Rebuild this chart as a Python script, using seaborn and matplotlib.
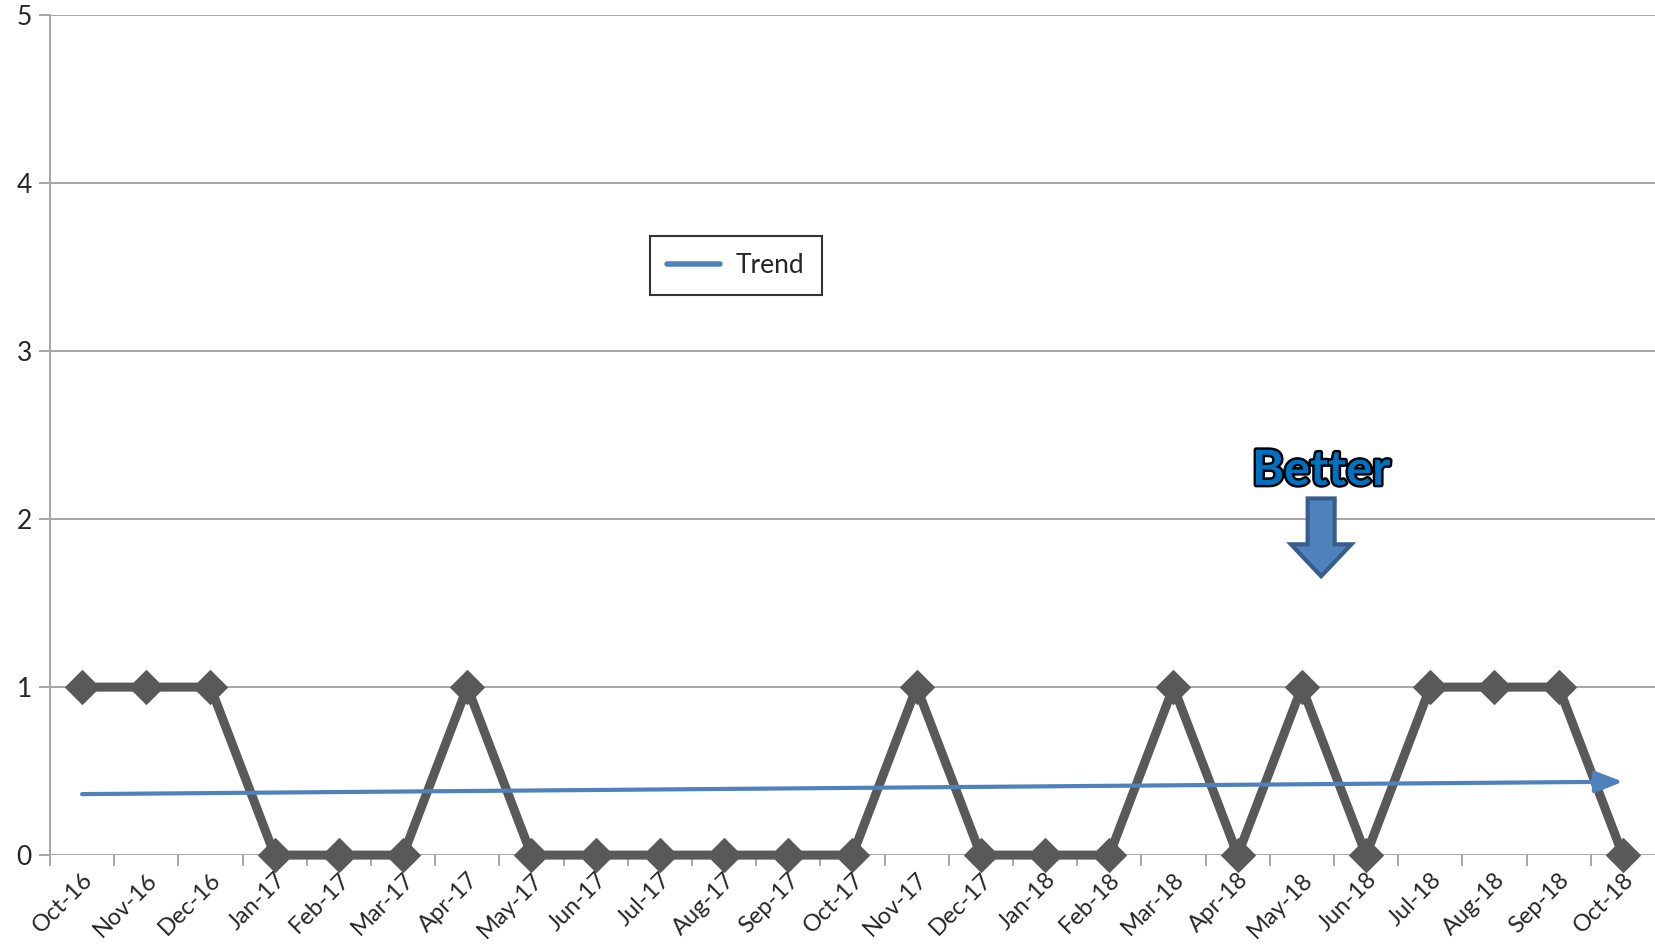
import matplotlib
matplotlib.use("Agg")
import matplotlib.pyplot as plt
import matplotlib.patheffects as pe
from matplotlib.lines import Line2D
from matplotlib.patches import Polygon
import numpy as np
import pandas as pd
import seaborn as sns

months = [
    "Oct-16", "Nov-16", "Dec-16", "Jan-17", "Feb-17", "Mar-17", "Apr-17",
    "May-17", "Jun-17", "Jul-17", "Aug-17", "Sep-17", "Oct-17", "Nov-17",
    "Dec-17", "Jan-18", "Feb-18", "Mar-18", "Apr-18", "May-18", "Jun-18",
    "Jul-18", "Aug-18", "Sep-18", "Oct-18",
]
values = [1, 1, 1, 0, 0, 0, 1, 0, 0, 0, 0, 0, 0, 1, 0, 0, 0, 1, 0, 1, 0, 1, 1, 1, 0]
trend_start = 0.363
trend_end = 0.437
y_ticks = [0, 1, 2, 3, 4, 5]

sns.set_theme(style="white")
plt.rcParams["font.family"] = ["Lato", "DejaVu Sans"]

df = pd.DataFrame({"month": months, "value": values})

fig = plt.figure(figsize=(16.55, 9.48), dpi=100)
ax = fig.add_axes([0.0302, 0.098, 0.9698, 0.886])

grid_col = "#A6A6A6"
for y in y_ticks:
    ax.axhline(y, color=grid_col, lw=1.4, zorder=0)

sns.lineplot(data=df, x="month", y="value", sort=False, ax=ax,
             color="#595959", lw=6.5, marker="D", markersize=17,
             markeredgecolor="#595959", zorder=3, clip_on=False)

# trend arrow
pos = np.arange(len(months))
ax.annotate("", xy=(pos[-1], trend_end), xytext=(pos[0], trend_start),
            arrowprops=dict(arrowstyle="-|>,head_length=1.4,head_width=0.55",
                            color="#4F81BD", lw=3, shrinkA=0, shrinkB=0),
            zorder=4)

ax.set_xlim(-0.5, len(months) - 0.5)
ax.set_ylim(0, 5)
ax.set_yticks(y_ticks)
ax.set_xticks(pos)
ax.set_xticklabels(months, rotation=45, ha="right", rotation_mode="anchor")
ax.set_xticks(pos - 0.5, minor=True)
ax.tick_params(axis="x", which="major", length=0, labelsize=17, pad=10)
ax.tick_params(axis="x", which="minor", length=8, width=1.4, color=grid_col, bottom=True)
ax.tick_params(axis="y", length=8, width=1.4, color=grid_col, labelsize=19, pad=5, left=True)
ax.set_xlabel("")
ax.set_ylabel("")
for s in ["top", "right", "bottom"]:
    ax.spines[s].set_visible(False)
ax.spines["left"].set_color(grid_col)
ax.spines["left"].set_linewidth(1.4)

# legend
handle = Line2D([0], [0], color="#4F81BD", lw=4)
leg = ax.legend([handle], ["Trend"], loc="upper left", bbox_to_anchor=(0.374, 0.737),
                fontsize=19, frameon=True, fancybox=False, handlelength=2.0,
                borderpad=0.65, handletextpad=0.6, borderaxespad=0)
leg.get_frame().set_edgecolor("black")
leg.get_frame().set_linewidth(1.5)

# "Better" callout
ax.text(19.3, 2.29, "Better", ha="center", va="center", fontsize=35,
        fontweight="bold", color="#0070C0",
        path_effects=[pe.withStroke(linewidth=3.5, foreground="black")], zorder=5)
cx = 19.3
sw, hw = 0.21, 0.47
arrow = Polygon([(cx - sw, 2.123), (cx + sw, 2.123), (cx + sw, 1.85), (cx + hw, 1.85),
                 (cx, 1.66), (cx - hw, 1.85), (cx - sw, 1.85)],
                closed=True, facecolor="#4F81BD", edgecolor="#385D8A", lw=3, zorder=5)
ax.add_patch(arrow)

fig.savefig("out.png", dpi=100)
